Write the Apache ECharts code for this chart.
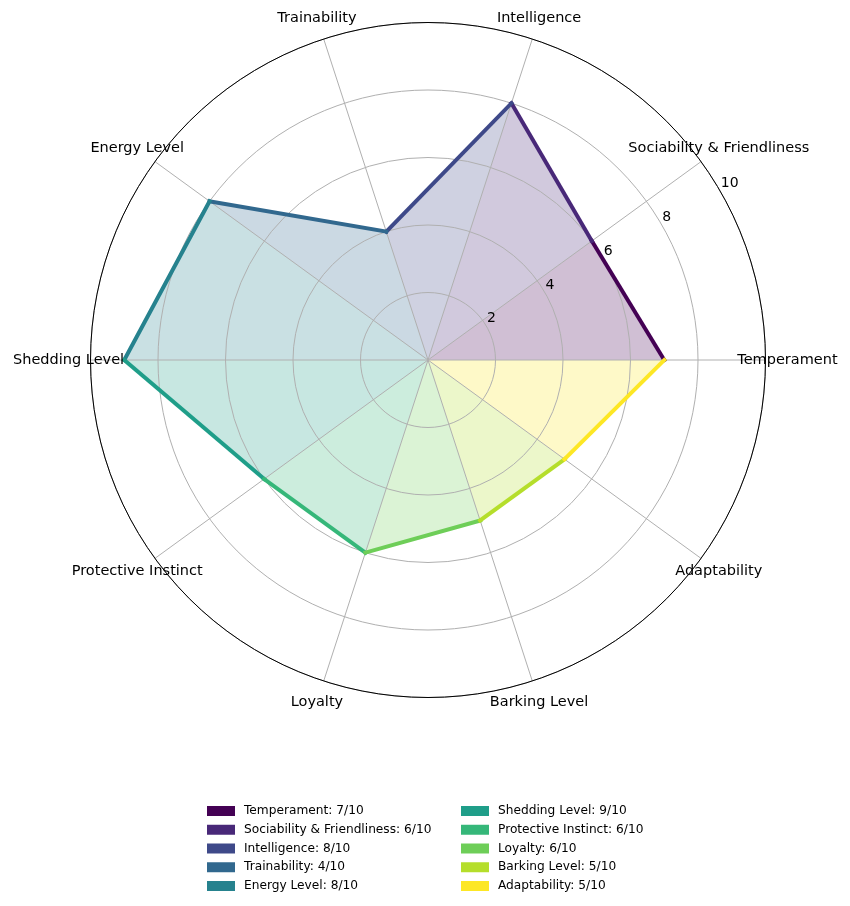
<!DOCTYPE html>
<html>
<head>
<meta charset="utf-8">
<script src="https://cdn.jsdelivr.net/npm/echarts@6/dist/echarts.min.js"></script>
<style>
html,body{margin:0;padding:0;background:#fff;}
#chart{width:850px;height:906px;}
</style>
</head>
<body>
<div id="chart"></div>
<script>
const categories = ['Temperament','Sociability & Friendliness','Intelligence','Trainability','Energy Level','Shedding Level','Protective Instinct','Loyalty','Barking Level','Adaptability'];
const values = [7, 6, 8, 4, 8, 9, 6, 6, 5, 5];
const colors = ['#440154','#482878','#3e4989','#31688e','#26828e','#1f9e89','#35b779','#6ece58','#b5de2b','#fde725'];
const radiusTicks = [2, 4, 6, 8, 10];

const FONT = 'DejaVu Sans';
const LABEL_R = 10.65;     // radial position of category labels (axis units)
const TICK_ANGLE = 30;     // angle of the radial tick labels (degrees)
const n = categories.length;
const step = 360 / n;
const names = categories.map((c, i) => c + ': ' + values[i] + '/10');

const lineSeries = [];
const fillSeries = [];
for (let i = 0; i < n; i++) {
  const j = (i + 1) % n;
  const data = [[values[i], i * step], [values[j], (i + 1) * step]];
  lineSeries.push({
    name: names[i], type: 'line', coordinateSystem: 'polar',
    data: data, symbol: 'none', showSymbol: false, z: 4, clip: false,
    color: colors[i],
    lineStyle: { width: 4, color: colors[i], cap: 'square' }
  });
  fillSeries.push({
    name: names[i], type: 'line', coordinateSystem: 'polar',
    data: data, symbol: 'none', showSymbol: false, z: 1, clip: false,
    color: colors[i],
    lineStyle: { width: 0, opacity: 0 },
    areaStyle: { color: colors[i], opacity: 0.25 }
  });
}

const labelText = {
  fontFamily: FONT, color: '#000000', opacity: 1,
  textBorderWidth: 0, textBorderColor: 'transparent', textShadowBlur: 0
};
const categoryLabelSeries = {
  type: 'scatter', coordinateSystem: 'polar', z: 6, silent: true, clip: false,
  symbol: 'circle', symbolSize: 1, itemStyle: { color: 'transparent' },
  data: categories.map((c, i) => ({ name: c, value: [LABEL_R, i * step] })),
  label: Object.assign({
    show: true, position: 'inside', align: 'center', verticalAlign: 'middle',
    formatter: '{b}', fontSize: 14.5
  }, labelText)
};
const tickLabelSeries = {
  type: 'scatter', coordinateSystem: 'polar', z: 6, silent: true, clip: false,
  symbol: 'circle', symbolSize: 1, itemStyle: { color: 'transparent' },
  data: radiusTicks.map(t => [t, TICK_ANGLE]),
  label: Object.assign({
    show: true, position: 'inside', align: 'left', verticalAlign: 'middle', offset: [0.5, -7.5],
    formatter: function (p) { return String(p.value[0]); },
    fontSize: 14
  }, labelText)
};

const chart = echarts.init(document.getElementById('chart'), null, { renderer: 'canvas' });
const legendCommon = {
  orient: 'vertical', icon: 'rect', itemWidth: 28, itemHeight: 10, itemGap: 4.75, padding: 0,
  itemStyle: { borderWidth: 0 },
  textStyle: { fontFamily: FONT, fontSize: 12.2, color: '#000', lineHeight: 14, padding: [0, 0, 0, 4] }
};
chart.setOption({
  animation: false,
  backgroundColor: '#fff',
  textStyle: { fontFamily: FONT },
  polar: { center: [428, 360], radius: 337.5 },
  angleAxis: {
    type: 'value', min: 0, max: 360, interval: step, startAngle: 0, clockwise: false, z: 3,
    axisLine: { show: true, lineStyle: { color: '#000', width: 1 } },
    axisTick: { show: false },
    axisLabel: { show: false },
    splitLine: { show: true, lineStyle: { color: '#b0b0b0', width: 1 } }
  },
  radiusAxis: {
    type: 'value', min: 0, max: 10, interval: 2, z: 2,
    axisLine: { show: false }, axisTick: { show: false }, axisLabel: { show: false },
    splitLine: { show: true, lineStyle: { color: '#b0b0b0', width: 1 } }
  },
  legend: [
    Object.assign({ left: 207, top: 804, data: names.slice(0, 5) }, legendCommon),
    Object.assign({ left: 461, top: 804, data: names.slice(5) }, legendCommon)
  ],
  series: lineSeries.concat(fillSeries, [categoryLabelSeries, tickLabelSeries])
});
</script>
</body>
</html>
